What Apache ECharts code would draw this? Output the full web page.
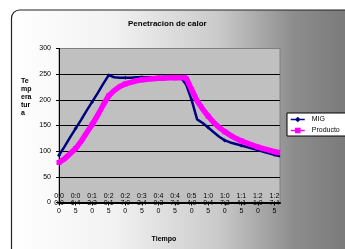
<!DOCTYPE html>
<html>
<head>
<meta charset="utf-8">
<style>
  html, body { margin: 0; padding: 0; background: #fff; }
  #chart { width: 345px; height: 249px; }
</style>
<script src="https://cdn.jsdelivr.net/npm/echarts@6/dist/echarts.min.js"></script>
</head>
<body>
<div id="chart"></div>
<script>
// tiempos cada 2:15
const tiempos = [
  '0:00:00', '0:02:15', '0:04:30', '0:06:45', '0:09:00', '0:11:15', '0:13:30',
  '0:15:45', '0:18:00', '0:20:15', '0:22:30', '0:24:45', '0:27:00', '0:29:15',
  '0:31:30', '0:33:45', '0:36:00', '0:38:15', '0:40:30', '0:42:45', '0:45:00',
  '0:47:15', '0:49:30', '0:51:45', '0:54:00', '0:56:15', '0:58:30', '1:00:45',
  '1:03:00', '1:05:15', '1:07:30', '1:09:45', '1:12:00', '1:14:15', '1:16:30',
  '1:18:45', '1:21:00', '1:23:15', '1:25:30', '1:27:45', '1:30:00'
]
const mig = [
  92, 109, 127, 144, 161, 179, 196, 213, 231, 248, 244, 243, 243, 243,
  244, 244, 244, 244, 244, 245, 245, 245, 244, 230, 200, 162, 155,
  146, 137, 128, 121, 117, 114, 111, 108, 105, 102, 99, 96, 93, 90
]
const producto = [
  78, 85, 95, 105, 119, 136, 152, 170, 190, 208, 218, 226, 231, 234,
  237, 239, 240, 241, 242, 242, 243, 243, 243, 243, 220, 198, 182,
  168, 156, 146, 138, 131, 125, 120, 116, 112, 108, 105, 102, 99, 97
]
const yTicks = [0, 50, 100, 150, 200, 250, 300]

const font = 'Liberation Sans, Arial, sans-serif'

const chart = echarts.init(document.getElementById('chart'))

chart.setOption({
  animation: false,
  graphic: [
    {
      type: 'rect',
      z: -10,
      shape: { x: 11.5, y: 10, width: 345, height: 260, r: 8 },
      style: {
        stroke: '#222',
        lineWidth: 1.2,
        fill: new echarts.graphic.LinearGradient(0, 0, 1, 0, [
          { offset: 0, color: '#ffffff' },
          { offset: 0.3, color: '#f2f2f2' },
          { offset: 0.6, color: '#cacaca' },
          { offset: 0.82, color: '#8c8c8c' },
          { offset: 1, color: '#777777' }
        ])
      }
    },
    {
      type: 'text',
      left: 21,
      top: 77,
      style: {
        text: 'Te\nmp\nera\ntur\na',
        font: 'bold 7px ' + font,
        lineHeight: 8,
        fill: '#000'
      }
    },
    {
      type: 'text',
      x: 164,
      y: 239,
      style: {
        text: 'Tiempo',
        font: 'bold 7px ' + font,
        fill: '#000',
        align: 'center',
        verticalAlign: 'middle'
      }
    }
  ],
  title: {
    text: 'Penetracion de calor',
    left: 128,
    top: 20,
    padding: 0,
    textStyle: { fontSize: 8, fontWeight: 'bold', fontFamily: font, color: '#000' }
  },
  legend: {
    orient: 'vertical',
    left: 287,
    top: 113,
    padding: [3, 12, 2, 3],
    itemWidth: 14,
    itemHeight: 7,
    itemGap: 4,
    backgroundColor: '#fff',
    borderColor: '#000',
    borderWidth: 1,
    borderRadius: 0,
    lineStyle: { width: 1.5 },
    textStyle: { fontSize: 7, fontFamily: font, color: '#000', padding: [0, 0, 0, 2] },
    data: ['MIG', 'Producto']
  },
  grid: {
    left: 59,
    top: 48.5,
    right: 65,
    bottom: 46.5,
    show: true,
    backgroundColor: '#c0c0c0',
    borderColor: '#808080',
    borderWidth: 1
  },
  xAxis: {
    type: 'category',
    data: tiempos,
    boundaryGap: false,
    axisLine: { lineStyle: { color: '#000', width: 2 } },
    axisTick: { show: true, length: 3, interval: 2, lineStyle: { color: '#000' } },
    axisLabel: {
      interval: 2,
      margin: -10.5,
      fontSize: 7,
      lineHeight: 7.6,
      fontFamily: font,
      color: '#000',
      formatter: v => v.match(/.{1,3}/g).join('\n')
    },
    splitLine: { show: false }
  },
  yAxis: {
    type: 'value',
    min: yTicks[0],
    max: yTicks[yTicks.length - 1],
    interval: 50,
    axisLine: { show: true, lineStyle: { color: '#000' } },
    axisTick: { show: true, length: 3, lineStyle: { color: '#000' } },
    axisLabel: { fontSize: 7, fontFamily: font, color: '#000', margin: 8 },
    splitLine: {
      show: true,
      lineStyle: { color: ['#000', '#000', '#000', '#000', '#000', '#000', '#808080'], width: 1 }
    }
  },
  series: [
    {
      name: 'MIG',
      type: 'line',
      data: mig,
      color: '#000080',
      symbol: 'diamond',
      symbolSize: 4,
      lineStyle: { width: 2.5, color: '#000080' },
      itemStyle: { color: '#000080' },
      z: 2
    },
    {
      name: 'Producto',
      type: 'line',
      data: producto,
      color: '#ff00ff',
      symbol: 'rect',
      symbolSize: 5,
      lineStyle: { width: 5.5, color: '#ff00ff' },
      itemStyle: { color: '#ff00ff' },
      z: 3
    }
  ]
})
</script>
</body>
</html>
